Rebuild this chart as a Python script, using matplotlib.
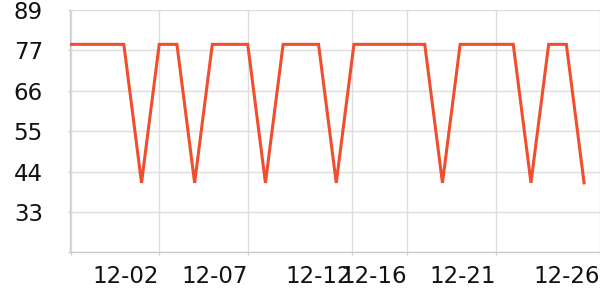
import numpy as np
import matplotlib
matplotlib.use("Agg")
import matplotlib.pyplot as plt

# daily values 11-27 .. 12-26
dates = ['11-27', '11-28', '11-29', '11-30', '12-01', '12-02', '12-03', '12-04',
         '12-05', '12-06', '12-07', '12-08', '12-09', '12-10', '12-11', '12-12',
         '12-13', '12-14', '12-15', '12-16', '12-17', '12-18', '12-19', '12-20',
         '12-21', '12-22', '12-23', '12-24', '12-25', '12-26']
values = [79.5, 79.5, 79.5, 79.5, 41.2, 79.5, 79.5, 41.2,
          79.5, 79.5, 79.5, 41.2, 79.5, 79.5, 79.5, 41.2,
          79.5, 79.5, 79.5, 79.5, 79.5, 41.2, 79.5, 79.5,
          79.5, 79.5, 41.2, 79.5, 79.5, 41.2]

xtick_labels = ['', '12-02', '12-07', '12-12', '12-16', '12-21', '12-26']
ytick_values = [22, 33.17, 44.33, 55.5, 66.67, 77.83, 89]
ytick_labels = ['', '33', '44', '55', '66', '77', '89']

fig = plt.figure(figsize=(6, 3), dpi=100)
ax = fig.add_axes([70 / 600, 1 - 252.3 / 300, 530 / 600, 242.3 / 300])

x = np.arange(len(dates))
ax.plot(x, values, color='#f04e2e', linewidth=2.2, solid_joinstyle='miter', zorder=3)

ax.set_xlim(-0.04, 29.9)
ax.set_ylim(22, 89)

ax.set_xticks([0, 5, 10, 15.88, 19, 24, 29.9])
ax.set_xticklabels(xtick_labels, ha='right')
ax.set_yticks(ytick_values)
ax.set_yticklabels(ytick_labels)

ax.grid(True, color='#dddddd', linewidth=1)
ax.set_axisbelow(True)
for s in ['top', 'right']:
    ax.spines[s].set_visible(False)
for s in ['left', 'bottom']:
    ax.spines[s].set_color('#cccccc')
    ax.spines[s].set_linewidth(1)

ax.tick_params(axis='x', length=2.5, color='#cccccc', pad=7, labelsize=16.5, labelcolor='#111111')
ax.tick_params(axis='y', length=1.5, color='#cccccc', pad=18, labelsize=16.5, labelcolor='#111111')

fig.savefig('out.png', dpi=100)
